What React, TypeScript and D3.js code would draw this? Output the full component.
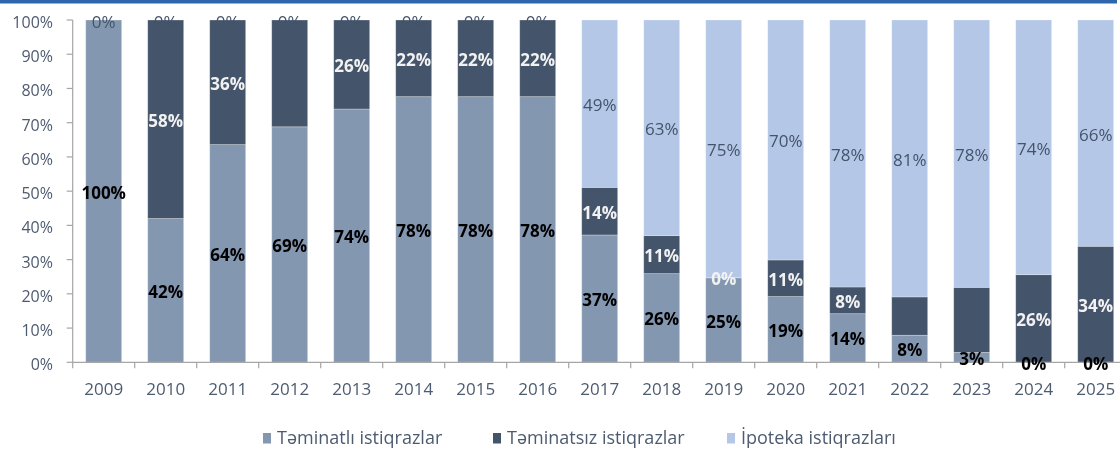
import { useEffect, useRef } from "react";
import * as d3 from "d3";

const years = [
	"2009", "2010", "2011", "2012", "2013", "2014", "2015", "2016", "2017",
	"2018", "2019", "2020", "2021", "2022", "2023", "2024", "2025"
];

// share of each bond type, %
const securedBonds = [100, 42, 63.6, 68.8, 74, 77.6, 77.6, 77.6, 37.2, 25.9, 24.7, 19.2, 14.2, 7.9, 2.9, 0, 0];
const unsecuredBonds = [0, 58, 36.4, 31.2, 26, 22.4, 22.4, 22.4, 13.9, 11.1, 0, 10.7, 7.8, 11.2, 19, 25.6, 33.9];
const mortgageBonds = [0, 0, 0, 0, 0, 0, 0, 0, 48.9, 63, 75.3, 70.1, 78, 80.9, 78.1, 74.4, 66.1];

// years where the unsecured label was left out
const hiddenUnsecuredLabels = ["2009", "2012", "2022", "2023"];

const yTicks = [0, 10, 20, 30, 40, 50, 60, 70, 80, 90, 100];

type SeriesKey = "secured" | "unsecured" | "mortgage";

interface Row {
	year: string;
	secured: number;
	unsecured: number;
	mortgage: number;
}

const seriesKeys: SeriesKey[] = ["secured", "unsecured", "mortgage"];
const seriesNames: Record<SeriesKey, string> = {
	secured: "Təminatlı istiqrazlar",
	unsecured: "Təminatsız istiqrazlar",
	mortgage: "İpoteka istiqrazları"
};
const palette: Record<SeriesKey, string> = {
	secured: "#8497b0",
	unsecured: "#44546a",
	mortgage: "#b4c7e7"
};
const labelStyle: Record<SeriesKey, { fill: string; weight: number }> = {
	secured: { fill: "#000000", weight: 700 },
	unsecured: { fill: "#f2f2f2", weight: 700 },
	mortgage: { fill: "#44546a", weight: 400 }
};

const rows: Row[] = years.map((year, i) => ({
	year,
	secured: securedBonds[i],
	unsecured: unsecuredBonds[i],
	mortgage: mortgageBonds[i]
}));

const FONT = "'Open Sans', 'DejaVu Sans', sans-serif";
const axisColor = "#4d5b70";

export default function App() {
	const containerRef = useRef<HTMLDivElement>(null);

	useEffect(() => {
		if (!containerRef.current) {
			return;
		}
		const width = 1120;
		const height = 449;
		const left = 72.7;
		const right = 1126.7;
		const top = 20;
		const bottom = 362.3;

		const svg = d3
			.select(containerRef.current)
			.append("svg")
			.attr("width", width)
			.attr("height", height)
			.style("display", "block")
			.attr("font-family", FONT);

		svg.append("rect").attr("x", 0).attr("y", 0).attr("width", 1117).attr("height", 3.5).attr("fill", "#2f65ad");

		const x = d3.scaleBand().domain(years).range([left, right]).paddingInner(0.42).paddingOuter(0.21);
		const y = d3.scaleLinear().domain([0, 100]).range([bottom, top]);
		const step = x.step();
		const bw = x.bandwidth();

		const stacked = d3.stack<Row>().keys(seriesKeys)(rows);

		const groups = svg
			.append("g")
			.selectAll("g.series")
			.data(stacked)
			.join("g")
			.attr("class", "series")
			.attr("fill", (s) => palette[s.key as SeriesKey]);

		groups
			.selectAll("rect")
			.data((s) => s.map((seg) => ({ year: seg.data.year, y0: seg[0], y1: seg[1] })))
			.join("rect")
			.attr("x", (d) => x(d.year) ?? 0)
			.attr("width", bw)
			.attr("y", (d) => y(d.y1))
			.attr("height", (d) => Math.max(0, y(d.y0) - y(d.y1)))
			.attr("stroke", "#ffffff")
			.attr("stroke-opacity", 0.35)
			.attr("stroke-width", 0.8);

		// axes
		const axis = svg.append("g").attr("stroke", "#a6a6a6").attr("stroke-width", 1.2);
		axis.append("line").attr("x1", left).attr("x2", left).attr("y1", top).attr("y2", bottom);
		axis.append("line").attr("x1", left).attr("x2", right).attr("y1", bottom).attr("y2", bottom);
		axis
			.selectAll("line.ytick")
			.data(yTicks)
			.join("line")
			.attr("class", "ytick")
			.attr("x1", left - 6)
			.attr("x2", left)
			.attr("y1", (d) => y(d))
			.attr("y2", (d) => y(d));
		axis
			.selectAll("line.xtick")
			.data(d3.range(years.length + 1))
			.join("line")
			.attr("class", "xtick")
			.attr("x1", (i) => left + i * step)
			.attr("x2", (i) => left + i * step)
			.attr("y1", bottom)
			.attr("y2", bottom + 6);

		svg
			.append("g")
			.selectAll("text")
			.data(yTicks)
			.join("text")
			.attr("x", 53)
			.attr("y", (d) => y(d) + 8)
			.attr("text-anchor", "end")
			.attr("font-size", 16)
			.attr("fill", axisColor)
			.text((d) => `${d}%`);

		svg
			.append("g")
			.selectAll("text")
			.data(years)
			.join("text")
			.attr("x", (d) => (x(d) ?? 0) + bw / 2)
			.attr("y", 395)
			.attr("text-anchor", "middle")
			.attr("font-size", 17)
			.attr("fill", axisColor)
			.text((d) => d);

		// data labels
		const labels = stacked.flatMap((s) =>
			s
				.filter((seg) => !(s.key === "unsecured" && hiddenUnsecuredLabels.includes(seg.data.year)))
				.map((seg) => ({
					key: s.key as SeriesKey,
					year: seg.data.year,
					mid: (seg[0] + seg[1]) / 2,
					value: seg.data[s.key as SeriesKey]
				}))
		);

		svg
			.append("g")
			.selectAll("text")
			.data(labels)
			.join("text")
			.attr("x", (d) => (x(d.year) ?? 0) + bw / 2)
			.attr("y", (d) => y(d.mid) + 7.5)
			.attr("text-anchor", "middle")
			.attr("font-size", 17)
			.attr("font-weight", (d) => labelStyle[d.key].weight)
			.attr("fill", (d) => labelStyle[d.key].fill)
			.text((d) => `${Math.round(d.value)}%`);

		// legend
		const legendX = [263, 493, 727];
		const legend = svg
			.append("g")
			.selectAll("g")
			.data(seriesKeys)
			.join("g")
			.attr("transform", (_, i) => `translate(${legendX[i]},433)`);
		legend.append("rect").attr("width", 8).attr("height", 10.5).attr("fill", (k) => palette[k]);
		legend
			.append("text")
			.attr("x", 14)
			.attr("y", 11)
			.attr("font-size", 18)
			.attr("fill", axisColor)
			.text((k) => seriesNames[k]);

		return () => {
			svg.remove();
		};
	}, []);

	return <div ref={containerRef} style={{ position: "fixed", left: 0, top: 0 }} />;
}
